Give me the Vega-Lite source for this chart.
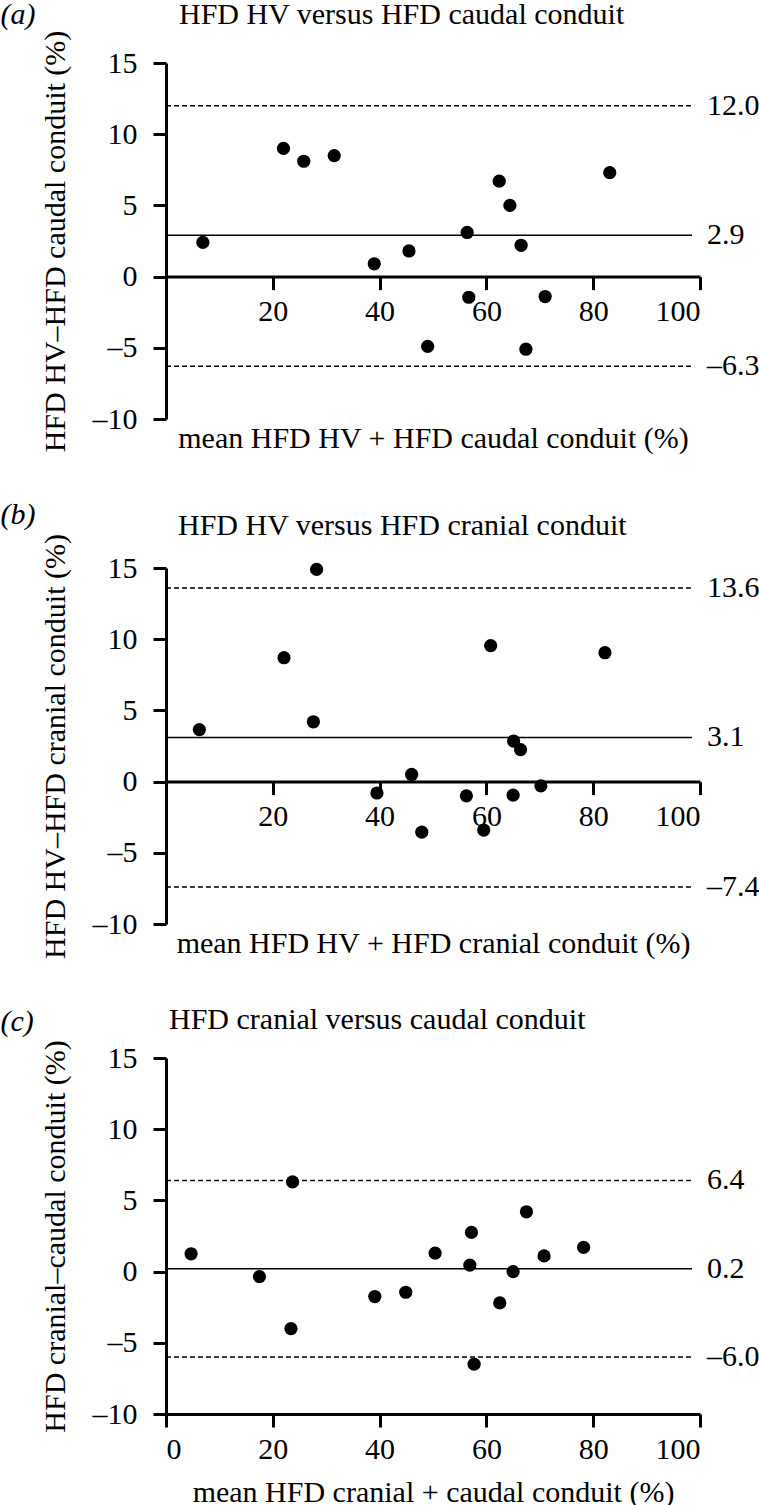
{
  "$schema": "https://vega.github.io/schema/vega-lite/v6.json",
  "background": "white",
  "padding": 0,
  "spacing": 46,
  "datasets": {
    "pa": [
      {"mean": 6.9, "diff": 2.4}, {"mean": 22.0, "diff": 9.0}, {"mean": 25.8, "diff": 8.1},
      {"mean": 31.5, "diff": 8.5}, {"mean": 39.0, "diff": 0.9}, {"mean": 45.5, "diff": 1.8},
      {"mean": 56.4, "diff": 3.1}, {"mean": 56.7, "diff": -1.45}, {"mean": 49.0, "diff": -4.9},
      {"mean": 62.4, "diff": 6.7}, {"mean": 64.4, "diff": 5.0}, {"mean": 66.5, "diff": 2.2},
      {"mean": 67.4, "diff": -5.1}, {"mean": 71.0, "diff": -1.4}, {"mean": 83.1, "diff": 7.3}
    ],
    "la": [
      {"value": 12.0, "kind": "limit", "label": "12.0"},
      {"value": 2.9, "kind": "mean", "label": "2.9"},
      {"value": -6.3, "kind": "limit", "label": "\u20136.3"}
    ],
    "pb": [
      {"mean": 6.25, "diff": 3.65}, {"mean": 22.1, "diff": 8.7}, {"mean": 28.2, "diff": 14.9},
      {"mean": 27.6, "diff": 4.2}, {"mean": 39.5, "diff": -0.8}, {"mean": 46.0, "diff": 0.5},
      {"mean": 47.9, "diff": -3.55}, {"mean": 56.25, "diff": -1.0}, {"mean": 59.5, "diff": -3.4},
      {"mean": 60.8, "diff": 9.55}, {"mean": 65.1, "diff": 2.85}, {"mean": 66.4, "diff": 2.25},
      {"mean": 65.0, "diff": -0.95}, {"mean": 70.2, "diff": -0.3}, {"mean": 82.2, "diff": 9.05}
    ],
    "lb": [
      {"value": 13.6, "kind": "limit", "label": "13.6"},
      {"value": 3.1, "kind": "mean", "label": "3.1"},
      {"value": -7.4, "kind": "limit", "label": "\u20137.4"}
    ],
    "pc": [
      {"mean": 4.7, "diff": 1.25}, {"mean": 17.5, "diff": -0.35}, {"mean": 23.7, "diff": 6.3},
      {"mean": 23.4, "diff": -4.0}, {"mean": 39.1, "diff": -1.75}, {"mean": 44.9, "diff": -1.45},
      {"mean": 50.4, "diff": 1.3}, {"mean": 57.2, "diff": 2.75}, {"mean": 56.9, "diff": 0.45},
      {"mean": 57.7, "diff": -6.5}, {"mean": 62.5, "diff": -2.2}, {"mean": 65.0, "diff": 0.0},
      {"mean": 67.5, "diff": 4.2}, {"mean": 70.8, "diff": 1.1}, {"mean": 78.2, "diff": 1.7}
    ],
    "lc": [
      {"value": 6.4, "kind": "limit", "label": "6.4"},
      {"value": 0.2, "kind": "mean", "label": "0.2"},
      {"value": -6.0, "kind": "limit", "label": "\u20136.0"}
    ]
  },
  "vconcat": [
    {
      "width": 534, "height": 356,
      "title": {"text": "HFD HV versus HFD caudal conduit", "dx": 13, "offset": -30},
      "layer": [
        {
          "data": {"name": "pa"},
          "mark": {"type": "circle", "size": 175, "opacity": 1, "color": "black"},
          "encoding": {
            "x": {"field": "mean", "type": "quantitative",
              "scale": {"domain": [0, 100], "nice": false, "zero": false},
              "axis": {"title": "mean HFD HV + HFD caudal conduit (%)", "values": [20, 40, 60, 80, 100], "offset": -142.4, "titleY": 162, "titleBaseline": "middle"}},
            "y": {"field": "diff", "type": "quantitative",
              "scale": {"domain": [-10, 15], "nice": false, "zero": false},
              "axis": {"title": "HFD HV\u2013HFD caudal conduit (%)", "values": [-10, -5, 0, 5, 10, 15]}}
          }
        },
        {
          "data": {"name": "la"},
          "mark": {"type": "rule", "strokeWidth": 1.5, "color": "black"},
          "encoding": {
            "x": {"datum": 0, "type": "quantitative"},
            "x2": {"datum": 98.5},
            "y": {"field": "value", "type": "quantitative"},
            "strokeDash": {"field": "kind", "type": "nominal", "scale": {"domain": ["limit", "mean"], "range": [[5, 3], [1, 0]]}, "legend": null}
          }
        },
        {
          "data": {"name": "la"},
          "mark": {"type": "text", "align": "left", "baseline": "middle", "fontSize": 30, "color": "black"},
          "encoding": {
            "x": {"datum": 101.3, "type": "quantitative"},
            "y": {"field": "value", "type": "quantitative"},
            "text": {"field": "label", "type": "nominal"}
          }
        },
        {
          "data": {"values": [{}]},
          "mark": {"type": "text", "text": "(a)", "align": "left", "baseline": "top", "fontSize": 30, "fontStyle": "italic", "color": "black"},
          "encoding": {
            "x": {"datum": -31, "type": "quantitative"},
            "y": {"datum": 19.42, "type": "quantitative"}
          }
        }
      ]
    },
    {
      "width": 534, "height": 356,
      "title": {"text": "HFD HV versus HFD cranial conduit", "dx": 12, "offset": -41},
      "layer": [
        {
          "data": {"name": "pb"},
          "mark": {"type": "circle", "size": 175, "opacity": 1, "color": "black"},
          "encoding": {
            "x": {"field": "mean", "type": "quantitative",
              "scale": {"domain": [0, 100], "nice": false, "zero": false},
              "axis": {"title": "mean HFD HV + HFD cranial conduit (%)", "values": [20, 40, 60, 80, 100], "offset": -142.4, "titleY": 162, "titleBaseline": "middle"}},
            "y": {"field": "diff", "type": "quantitative",
              "scale": {"domain": [-10, 15], "nice": false, "zero": false},
              "axis": {"title": "HFD HV\u2013HFD cranial conduit (%)", "values": [-10, -5, 0, 5, 10, 15]}}
          }
        },
        {
          "data": {"name": "lb"},
          "mark": {"type": "rule", "strokeWidth": 1.5, "color": "black"},
          "encoding": {
            "x": {"datum": 0, "type": "quantitative"},
            "x2": {"datum": 98.5},
            "y": {"field": "value", "type": "quantitative"},
            "strokeDash": {"field": "kind", "type": "nominal", "scale": {"domain": ["limit", "mean"], "range": [[5, 3], [1, 0]]}, "legend": null}
          }
        },
        {
          "data": {"name": "lb"},
          "mark": {"type": "text", "align": "left", "baseline": "middle", "fontSize": 30, "color": "black"},
          "encoding": {
            "x": {"datum": 101.3, "type": "quantitative"},
            "y": {"field": "value", "type": "quantitative"},
            "text": {"field": "label", "type": "nominal"}
          }
        },
        {
          "data": {"values": [{}]},
          "mark": {"type": "text", "text": "(b)", "align": "left", "baseline": "top", "fontSize": 30, "fontStyle": "italic", "color": "black"},
          "encoding": {
            "x": {"datum": -31, "type": "quantitative"},
            "y": {"datum": 19.77, "type": "quantitative"}
          }
        }
      ]
    },
    {
      "width": 534, "height": 356,
      "title": {"text": "HFD cranial versus caudal conduit", "dx": 3, "offset": -28},
      "layer": [
        {
          "data": {"name": "pc"},
          "mark": {"type": "circle", "size": 175, "opacity": 1, "color": "black"},
          "encoding": {
            "x": {"field": "mean", "type": "quantitative",
              "scale": {"domain": [0, 100], "nice": false, "zero": false},
              "axis": {"title": "mean HFD cranial + caudal conduit (%)", "values": [0, 20, 40, 60, 80, 100], "titleY": 78, "titleBaseline": "middle"}},
            "y": {"field": "diff", "type": "quantitative",
              "scale": {"domain": [-10, 15], "nice": false, "zero": false},
              "axis": {"title": "HFD cranial\u2013caudal conduit (%)", "values": [-10, -5, 0, 5, 10, 15]}}
          }
        },
        {
          "data": {"name": "lc"},
          "mark": {"type": "rule", "strokeWidth": 1.5, "color": "black"},
          "encoding": {
            "x": {"datum": 0, "type": "quantitative"},
            "x2": {"datum": 98.5},
            "y": {"field": "value", "type": "quantitative"},
            "strokeDash": {"field": "kind", "type": "nominal", "scale": {"domain": ["limit", "mean"], "range": [[5, 3], [1, 0]]}, "legend": null}
          }
        },
        {
          "data": {"name": "lc"},
          "mark": {"type": "text", "align": "left", "baseline": "middle", "fontSize": 30, "color": "black"},
          "encoding": {
            "x": {"datum": 101.3, "type": "quantitative"},
            "y": {"field": "value", "type": "quantitative"},
            "text": {"field": "label", "type": "nominal"}
          }
        },
        {
          "data": {"values": [{}]},
          "mark": {"type": "text", "text": "(c)", "align": "left", "baseline": "top", "fontSize": 30, "fontStyle": "italic", "color": "black"},
          "encoding": {
            "x": {"datum": -31, "type": "quantitative"},
            "y": {"datum": 18.58, "type": "quantitative"}
          }
        }
      ]
    }
  ],
  "config": {
    "font": "Liberation Serif",
    "view": {"stroke": null},
    "title": {"anchor": "start", "frame": "group", "fontSize": 30, "fontWeight": "normal", "baseline": "top", "color": "black"},
    "axis": {
      "grid": false,
      "domainColor": "black", "domainWidth": 3,
      "tickColor": "black", "tickWidth": 3, "tickSize": 13,
      "labelColor": "black", "labelFontSize": 30, "labelFont": "Liberation Serif",
      "titleColor": "black", "titleFontSize": 30, "titleFontWeight": "normal", "titleFont": "Liberation Serif",
      "labelExpr": "datum.value < 0 ? '\u2013' + format(-datum.value, 'd') : datum.label"
    },
    "axisX": {"labelPadding": 7},
    "axisY": {"labelPadding": 16, "titlePadding": 22}
  }
}
